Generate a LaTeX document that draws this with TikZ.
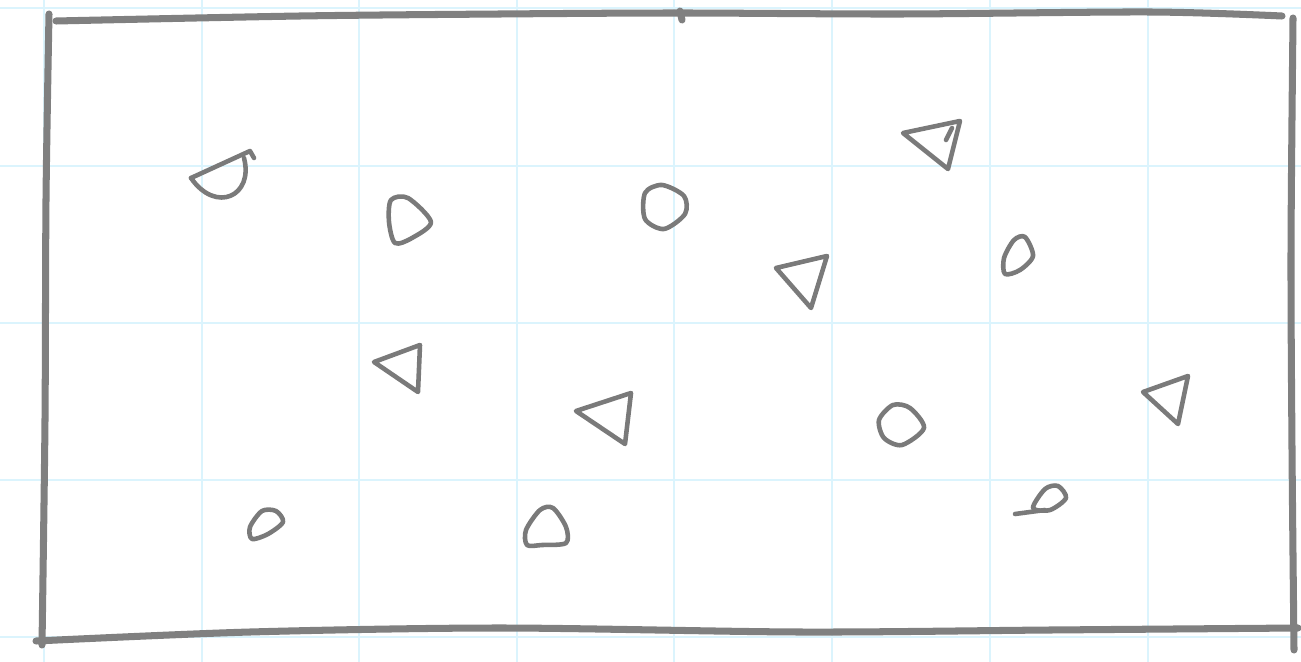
\documentclass[tikz,border=0pt]{standalone}
\usepackage{tikz}

\begin{document}
\begin{tikzpicture}[x=0.02cm,y=-0.02cm,line cap=round,line join=round,
  pencil/.style={draw=black!52,line width=2.6pt},
  frame/.style={draw=black!50,line width=4pt},
  paper/.style={draw=cyan!14,line width=0.7pt}]
\useasboundingbox (0,0) rectangle (1301,662);
% graph paper
\foreach \gx in {44,202,359,517,674,832,990,1148}
  \draw[paper] (\gx,0) -- (\gx,662);
\foreach \gy in {8,166,323,480,637}
  \draw[paper] (0,\gy) -- (1301,\gy);
% frame
\draw[frame] plot[smooth] coordinates {(56,21) (300,16) (500,14) (680,13) (900,14) (1150,12) (1282,16)};
\draw[frame] (680,11) -- (682,20);
\draw[frame] plot[smooth] coordinates {(49,14) (46,200) (45,420) (42,645)};
\draw[frame] plot[smooth] coordinates {(36,641) (250,632) (500,628) (800,632) (1050,630) (1298,628)};
\draw[frame] plot[smooth] coordinates {(1293,18) (1291,250) (1292,450) (1294,650)};
% circles
\draw[pencil] (191,178) -- (250,151) -- (254,158);
\draw[pencil] (244,158) .. controls (254,196) and (216,214) .. (191,178);
\draw[pencil] plot[smooth cycle] coordinates {(391,200) (408,198) (431,222) (412,238) (395,243) (389,222)};
\draw[pencil] plot[smooth cycle] coordinates {(645,193) (662,185) (684,196) (685,214) (664,229) (645,219)};
\draw[pencil] plot[smooth cycle] coordinates {(1004,258) (1014,240) (1025,237) (1033,256) (1020,270) (1005,274)};
\draw[pencil] plot[smooth cycle] coordinates {(879,420) (893,405) (910,408) (924,428) (902,445) (884,438)};
\draw[pencil] plot[smooth cycle] coordinates {(250,527) (262,511) (276,511) (283,522) (268,534) (252,539)};
\draw[pencil] plot[smooth cycle] coordinates {(526,530) (540,510) (553,508) (566,527) (566,543) (542,545) (527,545)};
\draw[pencil] plot[smooth cycle] coordinates {(1033,508) (1045,489) (1058,486) (1066,498) (1050,510)};
\draw[pencil] (1015,514) -- (1045,510);
% triangles
\draw[pencil] (903,133) -- (960,121) -- (948,169) -- cycle;
\draw[pencil] (946,140) -- (952,128);
\draw[pencil] (776,268) -- (827,256) -- (811,308) -- cycle;
\draw[pencil] (374,362) -- (420,345) -- (418,392) -- cycle;
\draw[pencil] (576,411) -- (631,393) -- (625,444) -- cycle;
\draw[pencil] (1143,392) -- (1188,376) -- (1178,424) -- cycle;
\end{tikzpicture}
\end{document}
